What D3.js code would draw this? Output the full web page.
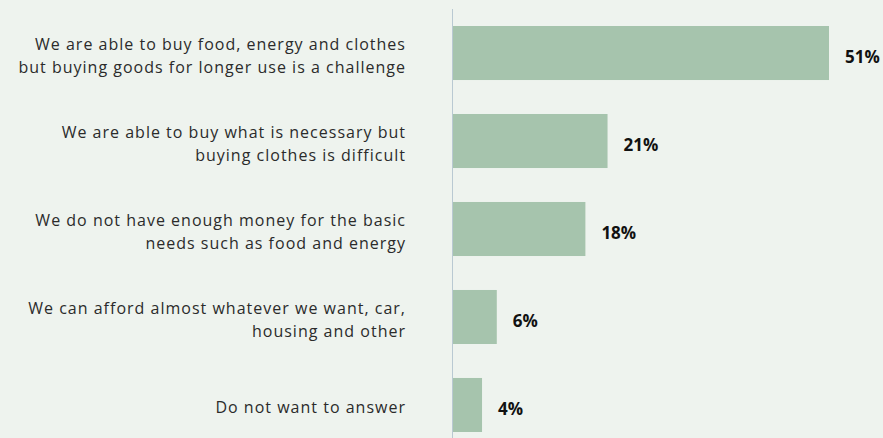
<!DOCTYPE html>
<html><head><meta charset="utf-8">
<script src="https://cdn.jsdelivr.net/npm/d3@7"></script>
<style>body{margin:0;background:#eef3ee;} svg{display:block;}</style>
</head><body>
<script>
const categories = [
  ["We are able to buy food, energy and clothes","but buying goods for longer use is a challenge"],
  ["We are able to buy what is necessary but","buying clothes is difficult"],
  ["We do not have enough money for the basic","needs such as food and energy"],
  ["We can afford almost whatever we want, car,","housing and other"],
  ["Do not want to answer"]
];
const values = [51, 21, 18, 6, 4];
const valueLabels = ["51%", "21%", "18%", "6%", "4%"];

const W = 883, H = 438;
const svg = d3.select("body").append("svg").attr("width", W).attr("height", H);
svg.append("rect").attr("width", W).attr("height", H).attr("fill", "#eef3ee");

const x0 = 452.5;
const x = d3.scaleLinear().domain([0, 51]).range([x0, 829]);
const y = d3.scaleBand().domain(d3.range(values.length)).range([26, 432]).paddingInner(0.386).paddingOuter(0);

svg.append("line").attr("x1", x0).attr("x2", x0).attr("y1", 9).attr("y2", H)
  .attr("stroke", "#b9c9d2").attr("stroke-width", 1);

svg.selectAll("rect.bar").data(values).join("rect").attr("class", "bar")
  .attr("x", x(0) + 0.5).attr("y", (d, i) => y(i))
  .attr("width", d => x(d) - x(0) - 0.5).attr("height", y.bandwidth())
  .attr("fill", "#a6c4ad");

svg.selectAll("text.val").data(values).join("text").attr("class", "val")
  .attr("x", d => x(d) + 16).attr("y", (d, i) => y(i) + y.bandwidth() / 2 + 10)
  .attr("font-family", "'Open Sans', sans-serif").attr("font-weight", 700).attr("font-size", 17)
  .attr("fill", "#111").text((d, i) => valueLabels[i]);

const lab = svg.selectAll("text.cat").data(categories).join("text").attr("class", "cat")
  .attr("font-family", "'Open Sans', sans-serif").attr("font-size", 16).attr("fill", "#2b2b2b")
  .attr("text-anchor", "end");
lab.each(function(lines, i) {
  const t = d3.select(this);
  const cy = y(i) + y.bandwidth() / 2 + 3;
  const lh = 23;
  const top = cy - (lines.length - 1) * lh / 2;
  lines.forEach((l, j) => {
    t.append("tspan").attr("x", 406).attr("y", top + j * lh + 5.5).text(l);
  });
});
// match reference line width (first line ≈ 371px) via letter-spacing
const firstSpan = lab.select("tspan").node();
const w = firstSpan.getComputedTextLength();
const ls = (371 - w) / categories[0][0].length;
lab.attr("letter-spacing", ls);
</script>
</body></html>
